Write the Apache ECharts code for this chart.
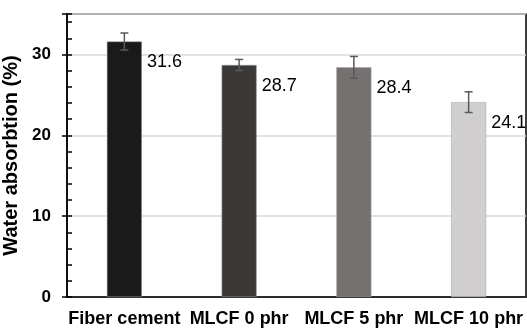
<!DOCTYPE html>
<html>
<head>
<meta charset="utf-8">
<script src="https://cdn.jsdelivr.net/npm/echarts@6/dist/echarts.min.js"></script>
<style>html,body{margin:0;padding:0;background:#fff;}#c{width:527px;height:329px;}</style>
</head>
<body>
<div id="c"></div>
<script>
const categories = ['Fiber cement', 'MLCF 0 phr', 'MLCF 5 phr', 'MLCF 10 phr'];
const values = [31.6, 28.7, 28.4, 24.1];
const errors = [1.05, 0.68, 1.35, 1.28];
const barColors = ['#1a1a1a', '#3b3838', '#767171', '#d0cece'];
const yTicks = [0, 10, 20, 30];

const chart = echarts.init(document.getElementById('c'));
const font = 'Arial, "Liberation Sans", sans-serif';
chart.setOption({
  animation: false,
  grid: { left: 67, right: 1, top: 14, bottom: 32, outerBoundsMode: 'none', containLabel: false, show: true, borderColor: '#000', borderWidth: 1.5, backgroundColor: 'transparent' },
  xAxis: {
    type: 'category',
    data: categories,
    axisLine: { lineStyle: { color: '#000', width: 1.5 } },
    axisTick: { show: false },
    axisLabel: { interval: 0, hideOverlap: false, color: '#000', fontFamily: font, fontWeight: 'bold', fontSize: 18, margin: 13 }
  },
  yAxis: [{
    type: 'value', min: 0, max: 35, interval: 10,
    name: 'Water absorbtion (%)', nameLocation: 'middle', nameGap: 33,
    nameTextStyle: { color: '#000', fontFamily: font, fontWeight: 'bold', fontSize: 20 },
    axisLine: { show: true, lineStyle: { color: '#000', width: 1.5 } },
    axisTick: { show: true, inside: false, length: 5, lineStyle: { color: '#000', width: 1.5 } },
    axisLabel: { color: '#000', fontFamily: font, fontWeight: 'bold', fontSize: 17, margin: 16,
      formatter: v => (yTicks.indexOf(v) >= 0 ? String(v) : '') },
    splitLine: { show: true, lineStyle: { color: '#d9d9d9', width: 1.5 } }
  }, {
    type: 'value', min: 0, max: 35, interval: 2, position: 'left',
    axisLine: { show: false },
    axisTick: { show: true, inside: true, length: 5, lineStyle: { color: '#000', width: 1.5 } },
    axisLabel: { show: false },
    splitLine: { show: false }
  }],
  series: [{
    type: 'bar',
    barWidth: 35,
    data: values.map((v, i) => ({ value: v, itemStyle: { color: barColors[i], borderColor: '#a0a0a0', borderWidth: 0.5 } })),
    label: {
      show: true, position: ['100%', 21], align: 'left', verticalAlign: 'middle', offset: [5, 0],
      color: '#000', fontFamily: font, fontSize: 18,
      formatter: p => p.value.toFixed(1)
    },
    z: 2
  }, {
    type: 'custom',
    data: values.map((v, i) => [i, v - errors[i], v + errors[i]]),
    renderItem: function (params, api) {
      const lo = api.coord([api.value(0), api.value(1)]);
      const hi = api.coord([api.value(0), api.value(2)]);
      const w = 4;
      const style = { stroke: '#595959', lineWidth: 1.5 };
      return { type: 'group', children: [
        { type: 'line', shape: { x1: lo[0], y1: lo[1], x2: hi[0], y2: hi[1] }, style },
        { type: 'line', shape: { x1: lo[0] - w, y1: lo[1], x2: lo[0] + w, y2: lo[1] }, style },
        { type: 'line', shape: { x1: hi[0] - w, y1: hi[1], x2: hi[0] + w, y2: hi[1] }, style }
      ]};
    },
    z: 3
  }]
});
</script>
</body>
</html>
